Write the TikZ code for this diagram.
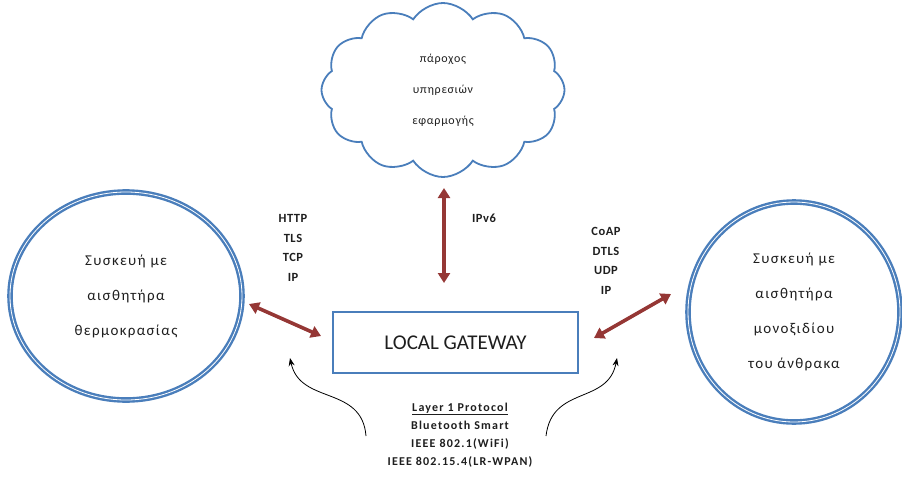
\documentclass[tikz,border=0pt]{standalone}
\usepackage{fontspec}
\setmainfont{Carlito}
\usetikzlibrary{shapes.symbols,shapes.geometric,arrows.meta}
\definecolor{cblue}{HTML}{4A7EBB}
\definecolor{cred}{HTML}{953735}
\definecolor{ctext}{HTML}{1E1E1E}
\begin{document}
\begin{tikzpicture}[x=1pt,y=-1pt,
  ring/.style={ellipse, draw=cblue, line width=2.4pt, double=white, double distance=0.8pt, inner sep=0pt, align=center, text=ctext,
    font=\fontsize{15}{35}\selectfont\addfontfeatures{LetterSpace=9}},
  cloudbox/.style={cloud, cloud puffs=12, cloud puff arc=115, cloud ignores aspect, draw=cblue, line width=1.8pt,
    align=center, text=ctext, font=\fontsize{12}{31}\selectfont\addfontfeatures{LetterSpace=6}},
  gate/.style={draw=cblue, line width=2.6pt, minimum width=245pt, minimum height=61pt, text=ctext,
    font=\fontsize{21}{24}\selectfont},
  proto/.style={align=center, text=ctext, font=\bfseries\fontsize{12.5}{19.5}\selectfont\addfontfeatures{LetterSpace=4}},
  layer/.style={align=center, text=ctext, font=\bfseries\fontsize{12}{18}\selectfont\addfontfeatures{LetterSpace=10}},
  link/.style={cred, line width=3.6pt, {Triangle[width=12pt,length=10pt]}-{Triangle[width=12pt,length=10pt]}},
  curl/.style={black, line width=0.8pt, -{Stealth[width=6pt,length=8pt]}}
]
\useasboundingbox (0,0) rectangle (902,477);

\node[cloudbox, minimum width=243pt, minimum height=174pt] (cloudn) at (443,90) {πάροχος\\υπηρεσιών\\εφαρμογής};

\node[ring, minimum width=232pt, minimum height=208pt] (left) at (126,296) {Συσκευή με\\αισθητήρα\\θερμοκρασίας};
\node[ring, minimum width=212pt, minimum height=220pt] (right) at (794,312) {Συσκευή με\\αισθητήρα\\μονοξιδίου\\του άνθρακα};

\node[gate] (gw) at (455.5,342.5) {LOCAL GATEWAY};

\node[proto] (httpstack) at (293,248) {HTTP\\TLS\\TCP\\IP};
\node[proto] (coapstack) at (606,261) {CoAP\\DTLS\\UDP\\IP};
\node[proto] (ipv6) at (484,218) {IPv6};

\node[layer] (layer) at (460,435) {\underline{Layer 1 Protocol}\\Bluetooth Smart\\IEEE 802.1(WiFi)\\IEEE 802.15.4(LR-WPAN)};

\coordinate (vtop) at (444,188);
\coordinate (vbot) at (444,283);
\draw[link] (vtop) -- (vbot);

\coordinate (la) at (249,304);
\coordinate (lb) at (321,336);
\draw[link] (la) -- (lb);

\coordinate (ra) at (594,338);
\coordinate (rb) at (671,294);
\draw[link] (ra) -- (rb);

\coordinate (lcs) at (366,436);
\coordinate (lce) at (290,358);
\draw[curl] (lcs) .. controls (362,385) and (300,405) .. (lce);

\coordinate (rcs) at (546,436);
\coordinate (rce) at (617,358);
\draw[curl] (rcs) .. controls (552,385) and (608,405) .. (rce);
\end{tikzpicture}
\end{document}
